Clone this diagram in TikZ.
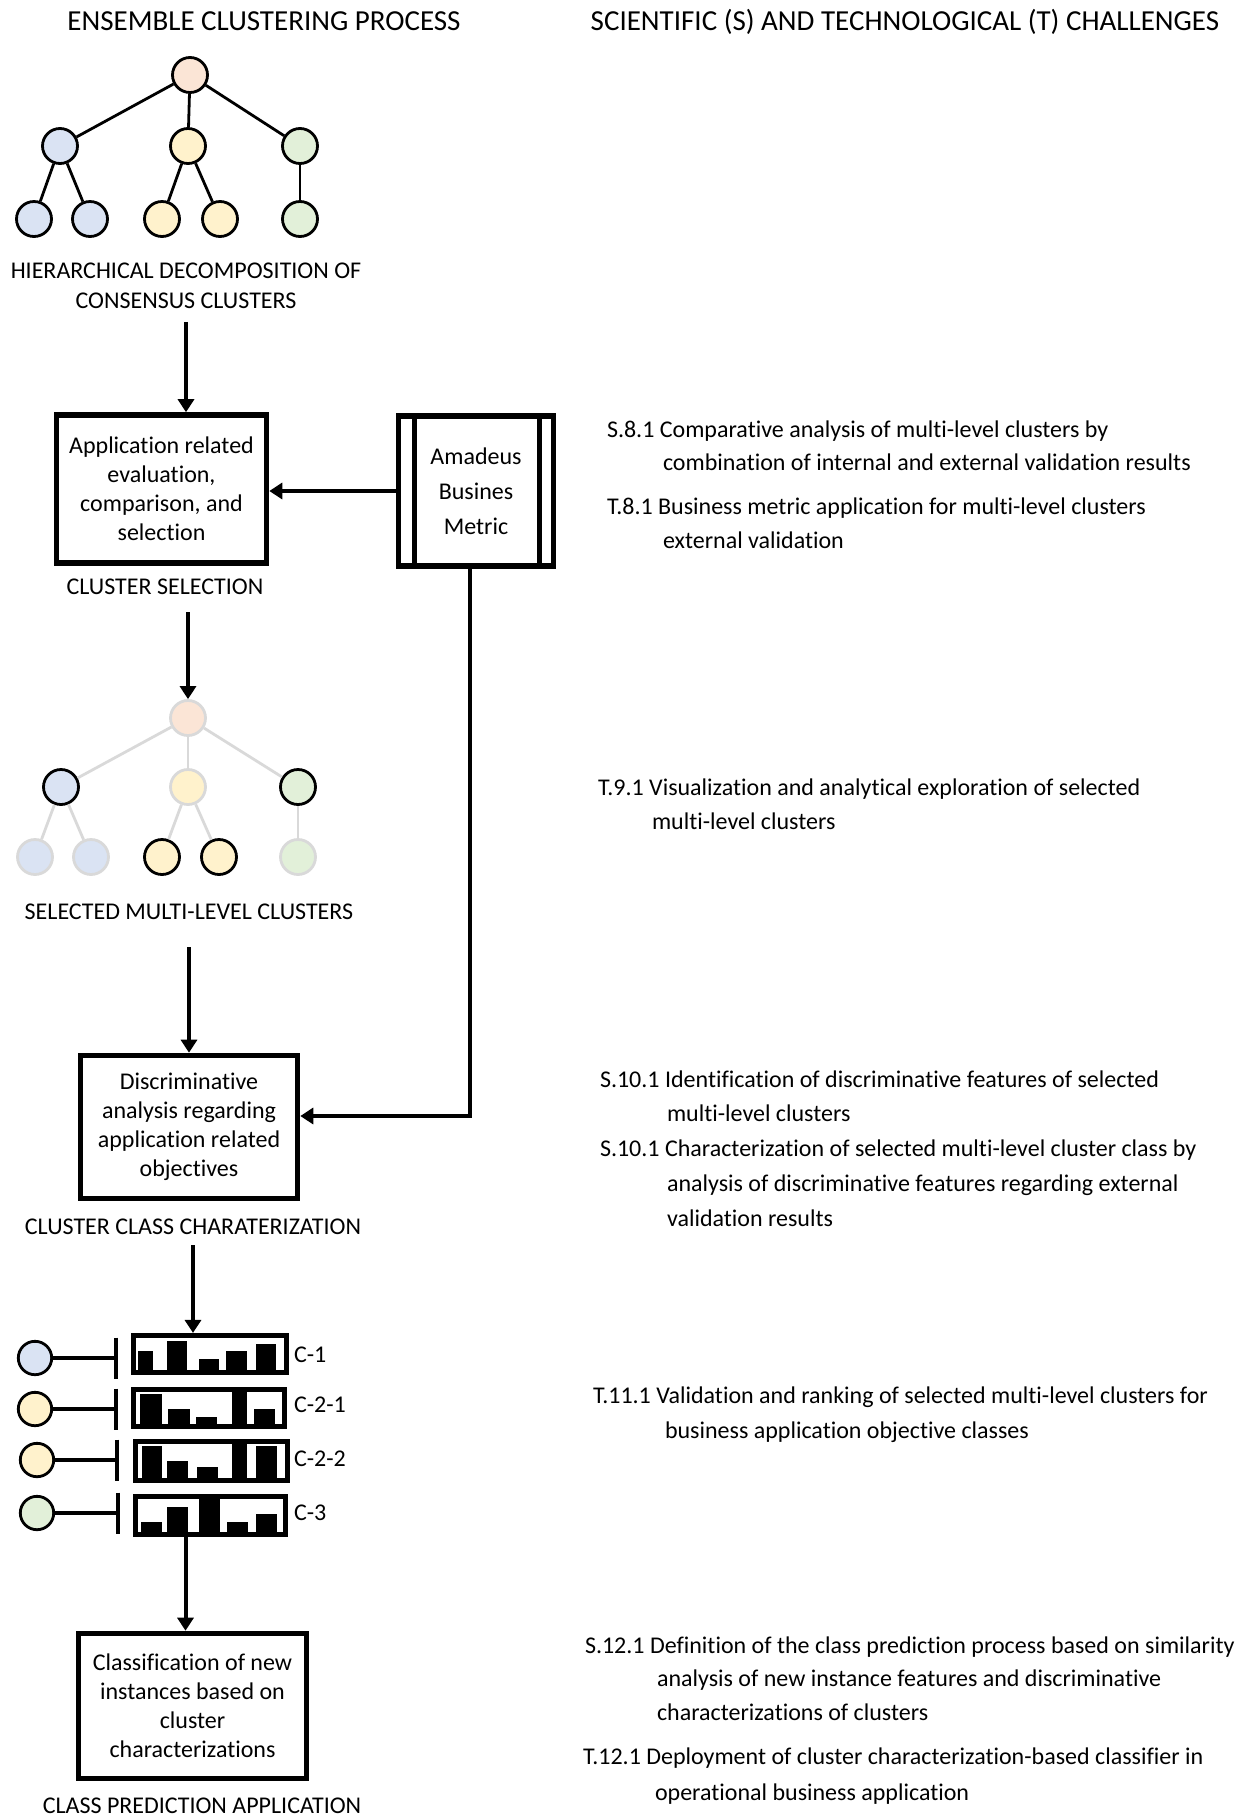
\documentclass[tikz,border=0pt]{standalone}
\usepackage{fontspec}
\setmainfont{Carlito}[Ligatures={NoCommon,NoContextual,NoRequired}, Contextuals=NoAlternate]
\usetikzlibrary{arrows.meta}

\definecolor{corange}{HTML}{FBE5D6}
\definecolor{cblue}{HTML}{DAE3F3}
\definecolor{cyellow}{HTML}{FFF2CC}
\definecolor{cgreen}{HTML}{E2F0D9}
\definecolor{cfade}{HTML}{D9D9D9}

\newcommand\headfont{\fontsize{14.5pt}{17pt}\selectfont}
\newcommand\capfont{\fontsize{12pt}{15pt}\selectfont}
\newcommand\boxfont{\fontsize{12pt}{14.5pt}\selectfont}
\newcommand\metricfont{\fontsize{12pt}{17.5pt}\selectfont}
\newcommand\bodyfont{\fontsize{12pt}{14.5pt}\selectfont}

\tikzset{
  dot/.style={circle, draw=black, line width=1.4pt, minimum size=17.5pt, inner sep=0pt},
  dimdot/.style={dot, draw=cfade},
  bardot/.style={dot, minimum size=16.7pt},
  edge/.style={line width=1.4pt},
  dimedge/.style={edge, draw=cfade},
  procbox/.style={draw, line width=2.8pt, align=center, font=\boxfont, inner sep=0pt},
  chartbox/.style={draw, line width=2.4pt, inner sep=0pt},
  flow/.style={line width=2pt, -{Triangle[width=8pt,length=6.5pt]}},
  stopline/.style={line width=1.9pt, -{Bar[width=20.5pt]}},
  caption/.style={font=\capfont, inner sep=0pt, outer sep=0pt, align=center},
  header/.style={font=\headfont, inner sep=0pt, outer sep=0pt, anchor=base},
  chal/.style={font=\bodyfont, inner sep=0pt, outer sep=0pt, anchor=base west},
  tag/.style={font=\bodyfont, inner sep=0pt, outer sep=0pt, anchor=base west},
}

\begin{document}
\begin{tikzpicture}[x=0.5pt, y=-0.5pt]
\useasboundingbox (0,0) rectangle (1250,1816);

% column headers
\node[header] (hleft) at (264,30) {ENSEMBLE CLUSTERING PROCESS};
\node[header] (hright) at (905,30) {SCIENTIFIC (S) AND TECHNOLOGICAL (T) CHALLENGES};

% ---- hierarchical decomposition tree
\node[dot, fill=corange] (ar) at (190,75) {};
\node[dot, fill=cblue]   (aa) at (60,146) {};
\node[dot, fill=cyellow] (ab) at (188,146) {};
\node[dot, fill=cgreen]  (ac) at (300,146) {};
\node[dot, fill=cblue]   (aa1) at (34,219) {};
\node[dot, fill=cblue]   (aa2) at (90,219) {};
\node[dot, fill=cyellow] (ab1) at (162,219) {};
\node[dot, fill=cyellow] (ab2) at (220,219) {};
\node[dot, fill=cgreen]  (ac1) at (300,219) {};
\draw[edge] (ar) -- (aa);
\draw[edge] (ar) -- (ab);
\draw[edge] (ar) -- (ac);
\draw[edge] (aa) -- (aa1);
\draw[edge] (aa) -- (aa2);
\draw[edge] (ab) -- (ab1);
\draw[edge] (ab) -- (ab2);
\draw[edge] (ac) -- (ac1);
\node[caption, anchor=center] (lbl1) at (186,286) {HIERARCHICAL DECOMPOSITION OF\\CONSENSUS CLUSTERS};

% ---- cluster selection
\node[procbox, minimum width=105pt, minimum height=74pt] (sel) at (161.5,489)
  {Application related\\evaluation,\\comparison, and\\selection};
\node[caption, anchor=base] (lbl2) at (165,594) {CLUSTER SELECTION};

\node[draw, line width=2.8pt, minimum width=77.5pt, minimum height=75pt, inner sep=0pt,
      align=center, font=\metricfont] (metric) at (476,491) {Amadeus\\Busines\\Metric};
\draw[line width=2.6pt] ([xshift=9.25pt]metric.north west) -- ([xshift=9.25pt]metric.south west);
\draw[line width=2.6pt] ([xshift=-8.5pt]metric.north east) -- ([xshift=-8.5pt]metric.south east);

\draw[flow, shorten <=6.5pt] (lbl1.south) -- (lbl1.south |- sel.north);
\draw[flow] (metric.west) -- (sel.east |- metric.west);

% ---- selected multi-level clusters
\node[dimdot, fill=corange] (br) at (188,718) {};
\node[dot, fill=cblue]      (ba) at (61,787) {};
\node[dimdot, fill=cyellow] (bb) at (188,787) {};
\node[dot, fill=cgreen]     (bc) at (298,787) {};
\node[dimdot, fill=cblue]   (ba1) at (35,857) {};
\node[dimdot, fill=cblue]   (ba2) at (91,857) {};
\node[dot, fill=cyellow]    (bb1) at (162,857) {};
\node[dot, fill=cyellow]    (bb2) at (219,857) {};
\node[dimdot, fill=cgreen]  (bc1) at (298,857) {};
\draw[dimedge] (br) -- (ba);
\draw[dimedge] (br) -- (bb);
\draw[dimedge] (br) -- (bc);
\draw[dimedge] (ba) -- (ba1);
\draw[dimedge] (ba) -- (ba2);
\draw[dimedge] (bb) -- (bb1);
\draw[dimedge] (bb) -- (bb2);
\draw[dimedge] (bc) -- (bc1);
\node[caption, anchor=base] (lbl3) at (189,919) {SELECTED MULTI-LEVEL CLUSTERS};

\draw[flow, shorten <=9pt] (br.north |- lbl2.south) -- (br.north);

% ---- cluster class characterization
\node[procbox, minimum width=108.5pt, minimum height=71.5pt] (disc) at (189,1127)
  {Discriminative\\analysis regarding\\application related\\objectives};
\node[caption, anchor=base] (lbl4) at (193,1234) {CLUSTER CLASS CHARATERIZATION};

\draw[flow, shorten <=14pt] (lbl3.south) -- (lbl3.south |- disc.north);
\draw[flow] ([xshift=-3pt]metric.south) |- ([yshift=5.5pt]disc.east);

% ---- class profiles
\node[chartbox, minimum width=76.7pt, minimum height=18.7pt] (p1) at (210,1354) {};
\node[chartbox, minimum width=75.7pt, minimum height=18.7pt] (p2) at (209,1408) {};
\node[chartbox, minimum width=76.2pt, minimum height=19.7pt] (p3) at (211.5,1461) {};
\node[chartbox, minimum width=75.2pt, minimum height=19.2pt] (p4) at (210.5,1515.5) {};

% bars of each profile
\fill (138,1351) rectangle (153,1373);
\fill (167,1341) rectangle (187,1373);
\fill (199,1359) rectangle (219,1373);
\fill (226,1351) rectangle (247,1373);
\fill (256,1344) rectangle (276,1373);

\fill (140,1394) rectangle (162,1427);
\fill (168,1409) rectangle (190,1427);
\fill (196,1417) rectangle (217,1427);
\fill (232,1389) rectangle (247,1427);
\fill (254,1409) rectangle (275,1427);

\fill (142,1446) rectangle (162,1481);
\fill (167,1461) rectangle (188,1481);
\fill (197,1467) rectangle (218,1481);
\fill (232,1441) rectangle (247,1481);
\fill (256,1446) rectangle (277,1481);

\fill (141,1522) rectangle (162,1535);
\fill (167,1507) rectangle (188,1535);
\fill (199,1499) rectangle (220,1535);
\fill (227,1522) rectangle (248,1535);
\fill (256,1514) rectangle (277,1535);

\node[bardot, fill=cblue]   (q1) at (35,1358) {};
\node[bardot, fill=cyellow] (q2) at (35,1409) {};
\node[bardot, fill=cyellow] (q3) at (37,1460) {};
\node[bardot, fill=cgreen]  (q4) at (37,1513) {};
\coordinate (s1) at (118,1358);
\coordinate (s2) at (118,1409);
\coordinate (s3) at (119,1460);
\coordinate (s4) at (120,1513);
\draw[stopline] (q1) -- (s1);
\draw[stopline] (q2) -- (s2);
\draw[stopline] (q3) -- (s3);
\draw[stopline] (q4) -- (s4);

\node[tag] (k1) at (294,1362) {C-1};
\node[tag] (k2) at (294,1412) {C-2-1};
\node[tag] (k3) at (294,1466) {C-2-2};
\node[tag] (k4) at (294,1520) {C-3};

\draw[flow, shorten <=5.5pt] (lbl4.south) -- (lbl4.south |- p1.north);

% ---- class prediction
\node[procbox, minimum width=114pt, minimum height=72.5pt] (pred) at (192.5,1706)
  {Classification of new\\instances based on\\cluster\\characterizations};
\node[caption, anchor=base] (lbl5) at (202,1813) {CLASS PREDICTION APPLICATION};

\draw[flow] ([xshift=-3.5pt]pred.north |- p4.south) -- ([xshift=-3.5pt]pred.north);

% ---- challenges
\node[chal] (s81a) at (607,437) {S.8.1 Comparative analysis of multi-level clusters by};
\node[chal] (s81b) at (663,470) {combination of internal and external validation results};
\node[chal] (t81a) at (607,514) {T.8.1 Business metric application for multi-level clusters};
\node[chal] (t81b) at (663,548) {external validation};

\node[chal] (t91a) at (598,795) {T.9.1 Visualization and analytical exploration of selected};
\node[chal] (t91b) at (652,829) {multi-level clusters};

\node[chal] (s101a) at (600,1087) {S.10.1 Identification of discriminative features of selected};
\node[chal] (s101b) at (667,1121) {multi-level clusters};
\node[chal] (s102a) at (600,1156) {S.10.1 Characterization of selected multi-level cluster class by};
\node[chal] (s102b) at (667,1191) {analysis of discriminative features regarding external};
\node[chal] (s102c) at (667,1226) {validation results};

\node[chal] (t111a) at (593,1403) {T.11.1 Validation and ranking of selected multi-level clusters for};
\node[chal] (t111b) at (665,1438) {business application objective classes};

\node[chal] (s121a) at (585,1653) {S.12.1 Definition of the class prediction process based on similarity};
\node[chal] (s121b) at (657,1686) {analysis of new instance features and discriminative};
\node[chal] (s121c) at (657,1720) {characterizations of clusters};
\node[chal] (t121a) at (583,1764) {T.12.1 Deployment of cluster characterization-based classifier in};
\node[chal] (t121b) at (655,1800) {operational business application};
\end{tikzpicture}
\end{document}
